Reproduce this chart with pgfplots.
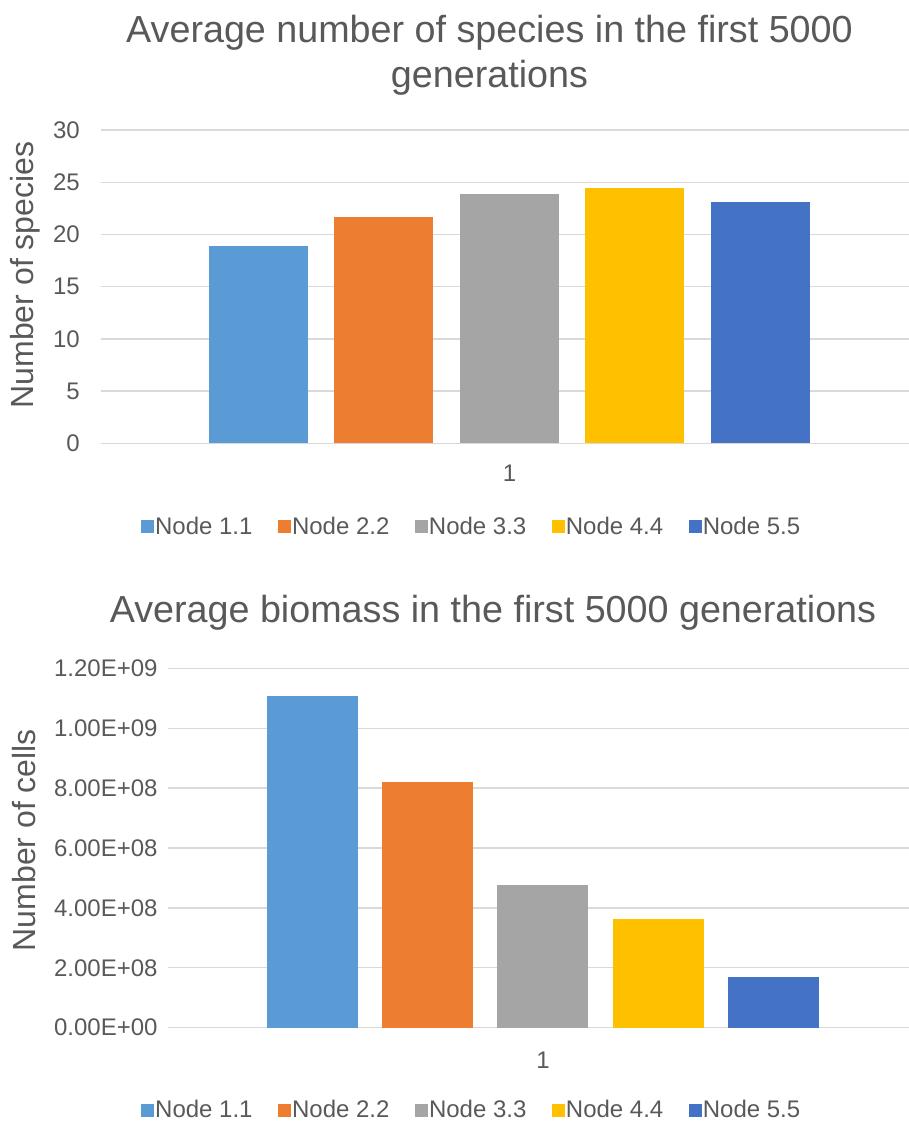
\documentclass[border=0pt]{standalone}
\usepackage{fontspec}
\setmainfont{Liberation Sans}
\usepackage{pgfplots}
\pgfplotsset{compat=1.18}

\definecolor{txt}{HTML}{595959}
\definecolor{grd}{HTML}{D9D9D9}
\definecolor{nodeA}{HTML}{5B9BD5}
\definecolor{nodeB}{HTML}{ED7D31}
\definecolor{nodeC}{HTML}{A5A5A5}
\definecolor{nodeD}{HTML}{FFC000}
\definecolor{nodeE}{HTML}{4472C4}

\pgfplotsset{
  excelbar/.style={
    scale only axis,
    ybar,
    enlargelimits=false,
    ymajorgrids,
    grid style={grd, line width=1.3pt},
    axis line style={draw=none},
    major tick length=0pt,
    /pgf/number format/assume math mode=true,
    tick label style={font=\fontsize{24}{28}\selectfont, text=txt},
    xtick={1}, xticklabels={1},
    xticklabel style={anchor=north, inner sep=0pt, yshift=-21.7pt},
    title style={align=center, anchor=north, inner sep=0pt,
      font=\fontsize{37.7}{45}\selectfont, text=txt},
    ylabel style={anchor=center, inner sep=0pt,
      font=\fontsize{32}{36}\selectfont, text=txt},
    legend columns=5,
    legend style={draw=none, fill=none, anchor=center, inner sep=0pt,
      font=\fontsize{24}{28}\selectfont, text=txt,
      nodes={inner sep=0pt},
      /tikz/every odd column/.append style={column sep=1pt},
      /tikz/every even column/.append style={column sep=25.5pt}},
    every axis plot/.append style={draw=none},
    every axis plot post/.append style={
      legend image code/.code={\fill[##1,draw=none] (0pt,-6.5pt) rectangle (13pt,6.5pt);}},
  }
}

\begin{document}
\begin{tikzpicture}
\useasboundingbox (0,0) rectangle (909pt,1125pt);

% species
\begin{axis}[excelbar,
  at={(101pt,681.7pt)}, anchor=south west,
  width=808pt, height=313.3pt,
  bar width=99pt, ybar=26.5pt,
  xmin=0, xmax=1.978,
  ymin=0, ymax=30, ytick={0,5,...,30},
  yticklabel style={anchor=east, inner sep=0pt, xshift=-21pt},
  title={Average number of species in the first 5000\\generations},
  title style={at={(axis description cs:0.4808,1.3495)}},
  ylabel={Number of species},
  ylabel style={at={(axis description cs:-0.094,0.537)}},
  legend style={at={(axis description cs:0.4575,-0.267)}},
]
\addplot[fill=nodeA] coordinates {(1,18.9)};
\addplot[fill=nodeB] coordinates {(1,21.7)};
\addplot[fill=nodeC] coordinates {(1,23.9)};
\addplot[fill=nodeD] coordinates {(1,24.45)};
\addplot[fill=nodeE] coordinates {(1,23.1)};
\legend{Node 1.1, Node 2.2, Node 3.3, Node 4.4, Node 5.5}
\end{axis}

% biomass
\begin{axis}[excelbar,
  at={(168.3pt,97.3pt)}, anchor=south west,
  width=740.7pt, height=359.4pt,
  bar width=91pt, ybar=24.3pt,
  xmin=0, xmax=1.9768,
  ymin=0, ymax=1.2e9,
  scaled y ticks=false,
  ytick={0,2e8,4e8,6e8,8e8,1e9,1.2e9},
  yticklabels={0.00E+00,2.00E+08,4.00E+08,6.00E+08,8.00E+08,1.00E+09,1.20E+09},
  yticklabel style={anchor=east, inner sep=0pt, xshift=-10.6pt},
  xticklabel style={yshift=-2.3pt},
  title={Average biomass in the first 5000 generations},
  title style={at={(axis description cs:0.4384,1.1865)}},
  ylabel={Number of cells},
  ylabel style={at={(axis description cs:-0.1948,0.522)}},
  legend style={at={(axis description cs:0.4083,-0.229)}},
]
\addplot[fill=nodeA] coordinates {(1,1.108e9)};
\addplot[fill=nodeB] coordinates {(1,8.21e8)};
\addplot[fill=nodeC] coordinates {(1,4.77e8)};
\addplot[fill=nodeD] coordinates {(1,3.63e8)};
\addplot[fill=nodeE] coordinates {(1,1.69e8)};
\legend{Node 1.1, Node 2.2, Node 3.3, Node 4.4, Node 5.5}
\end{axis}
\end{tikzpicture}
\end{document}
